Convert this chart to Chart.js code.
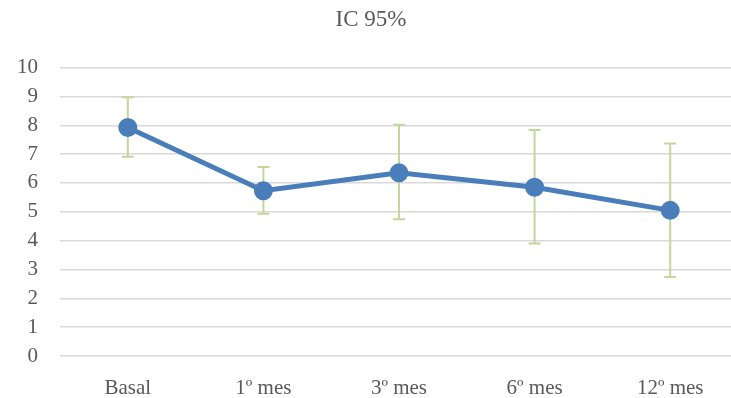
<!DOCTYPE html>
<html>
<head>
<meta charset="utf-8">
<script src="https://cdn.jsdelivr.net/npm/chart.js@4"></script>
<style>
  html, body { margin: 0; padding: 0; background: #fff; overflow: hidden; }
  #wrap { width: 750px; height: 398px; }
</style>
</head>
<body>
<div id="wrap"><canvas id="myChart" width="750" height="398"></canvas></div>
<script>
// data
const categories = ['Basal', '1º mes', '3º mes', '6º mes', '12º mes'];
const means = [7.92, 5.73, 6.35, 5.85, 5.05];
const lowerCI = [6.91, 4.93, 4.74, 3.90, 2.74];
const upperCI = [8.97, 6.55, 8.02, 7.84, 7.37];
const yTicks = [0, 1, 2, 3, 4, 5, 6, 7, 8, 9, 10];

const textColor = '#595959';
const fontFamily = "'Liberation Serif', 'DejaVu Serif', serif";

// draws the confidence interval whiskers under the line
const errorBars = {
  id: 'errorBars',
  beforeDatasetsDraw(chart) {
    const ctx = chart.ctx;
    const x = chart.scales.x, y = chart.scales.y;
    ctx.save();
    ctx.strokeStyle = '#c3d69b';
    ctx.lineWidth = 2;
    categories.forEach(function (c, i) {
      const px = x.getPixelForValue(i);
      const top = y.getPixelForValue(upperCI[i]);
      const bot = y.getPixelForValue(lowerCI[i]);
      ctx.beginPath();
      ctx.moveTo(px, top); ctx.lineTo(px, bot);
      ctx.moveTo(px - 6, top); ctx.lineTo(px + 6, top);
      ctx.moveTo(px - 6, bot); ctx.lineTo(px + 6, bot);
      ctx.stroke();
    });
    ctx.restore();
  }
};

const ctx = document.getElementById('myChart').getContext('2d');
new Chart(ctx, {
  type: 'line',
  data: {
    labels: categories,
    datasets: [{
      label: 'IC 95%',
      data: means,
      borderColor: '#4a7ebb',
      backgroundColor: '#4a7ebb',
      borderWidth: 5,
      pointRadius: 7,
      pointHoverRadius: 7,
      tension: 0
    }]
  },
  options: {
    responsive: false,
    animation: false,
    layout: { padding: { right: 8, left: 0, top: 0, bottom: 0 } },
    plugins: {
      legend: { display: false },
      tooltip: { enabled: false },
      title: {
        display: true,
        text: 'IC 95%',
        color: textColor,
        font: { family: fontFamily, size: 23, weight: 'normal' },
        padding: { top: 6, bottom: 34 }
      }
    },
    scales: {
      x: {
        offset: true,
        grid: { display: false },
        border: { display: false },
        ticks: {
          color: textColor,
          font: { family: fontFamily, size: 21 },
          padding: 12,
          maxRotation: 0
        },
        afterFit(scale) { scale.height = 42; }
      },
      y: {
        min: 0,
        max: 10,
        afterBuildTicks(scale) { scale.ticks = yTicks.map(v => ({ value: v })); },
        grid: { color: '#d9d9d9', lineWidth: 1.5, drawTicks: false },
        border: { display: false },
        ticks: {
          color: textColor,
          font: { family: fontFamily, size: 21 },
          padding: 22
        },
        afterFit(scale) { scale.width = 60; }
      }
    }
  },
  plugins: [errorBars]
});
</script>
</body>
</html>
